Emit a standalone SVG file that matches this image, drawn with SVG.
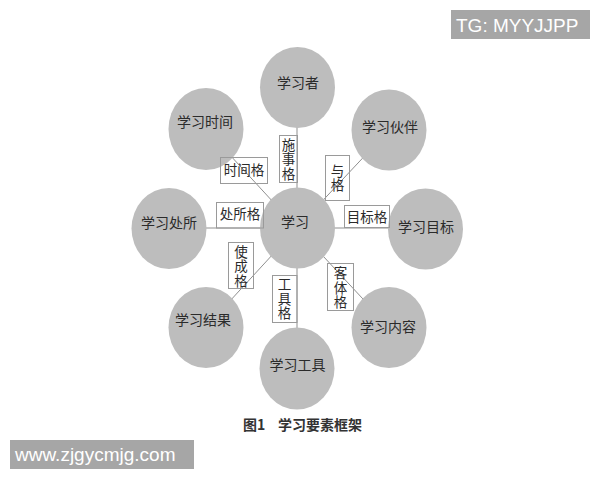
<svg xmlns="http://www.w3.org/2000/svg" width="600" height="480" viewBox="0 0 600 480">
<style>
.c{fill:#bdbdbd;stroke:none}
.ct{font-family:"Noto Sans CJK SC","Noto Sans",sans-serif;font-size:14px;fill:#2b2b2b;text-anchor:middle}
.lb{fill:none;stroke:#9a9a9a;stroke-width:1}
.lt{font-family:"Noto Sans CJK SC","Noto Sans",sans-serif;font-size:13.5px;fill:#2b2b2b;text-anchor:middle}
.vt{font-family:"Noto Sans CJK SC","Noto Sans",sans-serif;font-size:13.5px;fill:#2b2b2b;text-anchor:middle;writing-mode:vertical-rl;letter-spacing:1px}
.ln{stroke:#8f8f8f;stroke-width:1;fill:none}
.wm{fill:#a6a6a6}
.wt{font-family:"Liberation Sans",Arial,sans-serif;font-size:19px;fill:#ffffff}
</style>
<rect width="600" height="480" fill="#ffffff"/>
<g id="connectors">
<line class="ln" x1="297" y1="87" x2="297" y2="228"/>
<line class="ln" x1="206" y1="129" x2="297" y2="228"/>
<line class="ln" x1="389" y1="130" x2="297" y2="228"/>
<line class="ln" x1="169" y1="228" x2="297" y2="228"/>
<line class="ln" x1="425" y1="228" x2="297" y2="228"/>
<line class="ln" x1="206" y1="327" x2="297" y2="228"/>
<line class="ln" x1="297" y1="368" x2="297" y2="228"/>
<line class="ln" x1="389" y1="327" x2="297" y2="228"/>
</g>
<g id="n-xuexizhe"><ellipse class="c" cx="297.5" cy="87.5" rx="37.5" ry="40.5"/><text class="ct" x="298" y="88">学习者</text></g>
<g id="n-shijian"><ellipse class="c" cx="206" cy="129" rx="37.5" ry="41"/><text class="ct" x="205" y="127">学习时间</text></g>
<g id="n-huoban"><ellipse class="c" cx="389" cy="130" rx="37.5" ry="40.5"/><text class="ct" x="390" y="132">学习伙伴</text></g>
<g id="n-chusuo"><ellipse class="c" cx="169" cy="228.5" rx="37.5" ry="40.5"/><text class="ct" x="169" y="228">学习处所</text></g>
<g id="n-xuexi"><ellipse class="c" cx="297.5" cy="228" rx="37.5" ry="40.5"/><text class="ct" x="295" y="227">学习</text></g>
<g id="n-mubiao"><ellipse class="c" cx="425.5" cy="229" rx="37.5" ry="40.5"/><text class="ct" x="426" y="232">学习目标</text></g>
<g id="n-jieguo"><ellipse class="c" cx="206" cy="327.5" rx="37.5" ry="40.5"/><text class="ct" x="203" y="325">学习结果</text></g>
<g id="n-gongju"><ellipse class="c" cx="297" cy="368.5" rx="37.5" ry="41"/><text class="ct" x="297.5" y="370">学习工具</text></g>
<g id="n-neirong"><ellipse class="c" cx="389" cy="327.5" rx="37.5" ry="40.5"/><text class="ct" x="388" y="332">学习内容</text></g>
<g id="l-shishige"><rect class="lb" x="279.5" y="135.5" width="18" height="47"/><text class="vt" x="288.5" y="159.5">施事格</text></g>
<g id="l-shijiange"><rect class="lb" x="220.5" y="157.5" width="47" height="26"/><text class="lt" x="244" y="175">时间格</text></g>
<g id="l-yuge"><rect class="lb" x="325.5" y="155.5" width="24" height="45"/><text class="vt" x="337.5" y="178.5">与格</text></g>
<g id="l-chusuoge"><rect class="lb" x="216.5" y="202.5" width="47" height="25.5"/><text class="lt" x="240" y="219">处所格</text></g>
<g id="l-mubiaoge"><rect class="lb" x="344.5" y="205.5" width="45" height="22"/><text class="lt" x="367" y="222">目标格</text></g>
<g id="l-shichengge"><rect class="lb" x="228.5" y="242.5" width="25" height="46"/><text class="vt" x="241" y="266.5">使成格</text></g>
<g id="l-gongjuge"><rect class="lb" x="272.5" y="275.5" width="24.5" height="47"/><text class="vt" x="284.5" y="299">工具格</text></g>
<g id="l-ketige"><rect class="lb" x="327.5" y="263.5" width="26" height="47"/><text class="vt" x="340.5" y="288">客体格</text></g>
<text x="243" y="430" font-family="'Noto Sans CJK SC','Noto Sans',sans-serif" font-size="14" font-weight="bold" fill="#333333">图1</text>
<text x="278" y="430" font-family="'Noto Sans CJK SC','Noto Sans',sans-serif" font-size="14" font-weight="bold" fill="#333333">学习要素框架</text>
<rect class="wm" x="451" y="10" width="139" height="29"/>
<text class="wt" x="456" y="32">TG: MYYJJPP</text>
<rect class="wm" x="10" y="440" width="184" height="29"/>
<text class="wt" x="15" y="461">www.zjgycmjg.com</text>
</svg>
